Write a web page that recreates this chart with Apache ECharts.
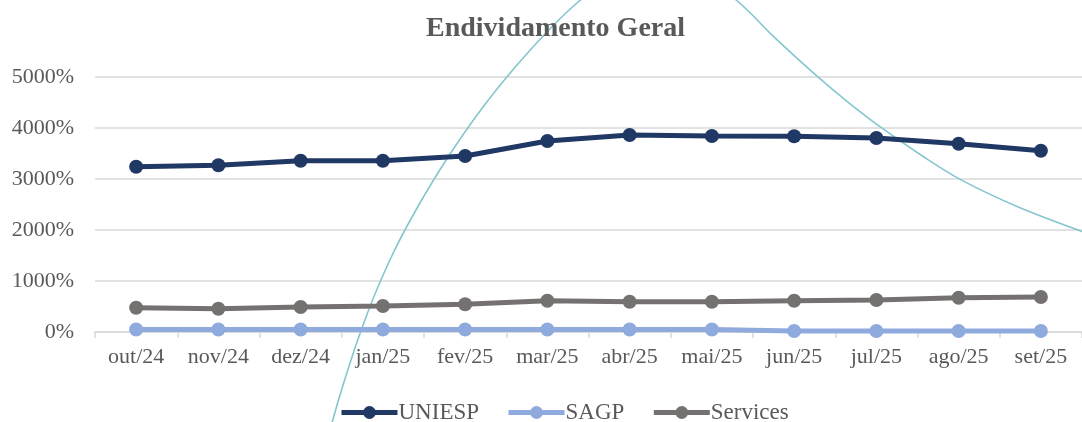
<!DOCTYPE html>
<html>
<head>
<meta charset="utf-8">
<script src="https://cdn.jsdelivr.net/npm/echarts@6/dist/echarts.min.js"></script>
<style>
  html, body { margin: 0; padding: 0; background: #fff; }
  #chart { width: 1082px; height: 422px; }
</style>
</head>
<body>
<div id="chart"></div>
<script>
const months = ['out/24', 'nov/24', 'dez/24', 'jan/25', 'fev/25', 'mar/25',
    'abr/25', 'mai/25', 'jun/25', 'jul/25', 'ago/25', 'set/25'];
const uniesp = [3241, 3269, 3359, 3359, 3451, 3745, 3863, 3843, 3837, 3804, 3692, 3555];
const sagp = [50, 50, 50, 50, 50, 50, 50, 50, 20, 20, 20, 20];
const services = [476, 457, 490, 510, 543, 614, 594, 594, 614, 627, 673, 686];

// teal trend curve (x in category index units)
const trendX = [2.211, 2.512, 2.813, 3.114, 3.416, 3.777, 4.199, 4.620, 5.042, 5.404, 5.886,
    6.343, 6.813, 7.295, 7.777, 8.271, 8.669, 9.078, 9.560, 10.042, 10.717, 11.5];
const trendY = [-2784, -1059, 373, 1510, 2431, 3392, 4373, 5216, 5961, 6510, 7059,
    7235, 7059, 6510, 5753, 5027, 4490, 3986, 3451, 2973, 2457, 1973];

const FONT = '"Liberation Serif", "DejaVu Serif", serif';
const TEXT = '#595959';
const GRID = '#d9d9d9';

const lineSeries = (name, data, color) => {
    return {
        name: name,
        type: 'line',
        data: data,
        symbol: 'circle',
        symbolSize: 14,
        z: 3,
        lineStyle: { color: color, width: 5 },
        itemStyle: { color: color },
    };
};

const chart = echarts.init(document.getElementById('chart'));
chart.setOption({
    animation: false,
    title: {
        text: 'Endividamento Geral',
        left: 421,
        top: 10,
        textStyle: { fontFamily: FONT, fontSize: 28, fontWeight: 'bold', color: TEXT },
    },
    legend: {
        top: 396,
        left: 334,
        itemWidth: 56,
        itemHeight: 16,
        itemGap: 27,
        data: ['UNIESP', 'SAGP', 'Services'],
        lineStyle: { width: 5 },
        textStyle: { fontFamily: FONT, fontSize: 23, color: TEXT, padding: [0, 0, 0, -4] },
    },
    grid: { left: 95, right: -9, top: 77, bottom: 90, containLabel: false },
    xAxis: [
        {
            type: 'category',
            data: months,
            boundaryGap: true,
            axisLine: { lineStyle: { color: GRID, width: 1.5 } },
            axisTick: { show: true, interval: 0, length: 6, lineStyle: { color: GRID, width: 1.5 } },
            axisLabel: { interval: 0, fontFamily: FONT, fontSize: 22, color: TEXT, margin: 14 },
        },
        { type: 'value', min: -0.5, max: 11.5, show: false },
    ],
    yAxis: {
        type: 'value',
        min: 0,
        max: 5000,
        interval: 1000,
        axisLine: { show: false },
        axisTick: { show: false },
        splitLine: { lineStyle: { color: GRID, width: 1.5 } },
        axisLabel: {
            fontFamily: FONT, fontSize: 22, color: TEXT, margin: 21,
            formatter: (v) => v + '%',
        },
    },
    series: [
        {
            name: 'trend',
            type: 'line',
            xAxisIndex: 1,
            data: trendX.map((x, i) => [x, trendY[i]]),
            smooth: 0.35,
            showSymbol: false,
            clip: false,
            silent: true,
            z: 1,
            lineStyle: { color: '#84c6cf', width: 1.6 },
        },
        lineSeries('UNIESP', uniesp, '#203864'),
        lineSeries('SAGP', sagp, '#8faadc'),
        lineSeries('Services', services, '#767171'),
    ],
});
</script>
</body>
</html>
